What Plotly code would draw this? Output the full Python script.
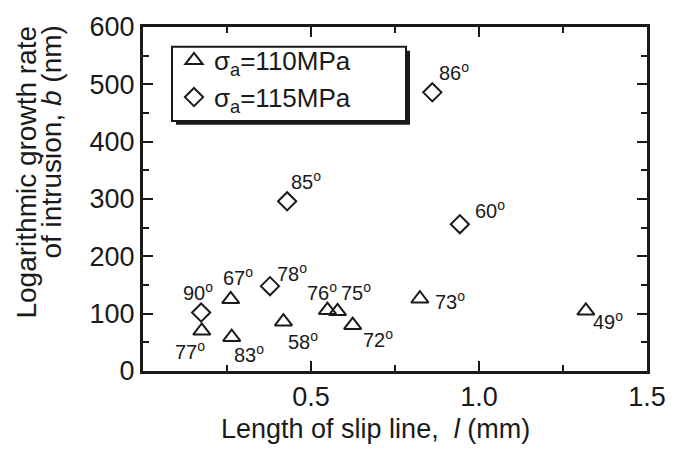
import plotly.graph_objects as go

# sigma_a = 110 MPa (triangles)
tri_x = [0.175, 0.261, 0.264, 0.418, 0.549, 0.579, 0.624, 0.824, 1.318]
tri_y = [70, 125, 59, 86, 106, 104, 80, 126, 105]
tri_angle = ["77", "67", "83", "58", "76", "75", "72", "73", "49"]
# label offsets in pixels (dx, dy)
tri_dx = [-12, 7, 17, 20, -5, 18, 25, 30, 22]
tri_dy = [-20, 23, -16, -19, 19, 20, -13, -2, -10]

# sigma_a = 115 MPa (diamonds)
dia_x = [0.173, 0.378, 0.429, 0.861, 0.943]
dia_y = [102, 148, 296, 486, 256]
dia_angle = ["90", "78", "85", "86", "60"]
dia_dx = [-3, 22, 19, 22, 30]
dia_dy = [21, 14, 21, 21, 15]

x_ticks = [0.5, 1.0, 1.5]
x_ticktext = ["0.5", "1.0", "1.5"]
x_minor = [0.25, 0.75, 1.25]

FONT = "Liberation Sans, Arial, sans-serif"
INK = "#1a1a1a"

# plot area in pixels (for paper-coordinate conversion of decorations)
L, R, T, B = 143, 647, 23, 371
def px_x(p): return (p - L) / (R - L)
def px_y(p): return (B - p) / (B - T)

fig = go.Figure()
fig.add_trace(go.Scatter(
    x=tri_x, y=tri_y, mode="markers", name="σ<sub>a</sub>=110MPa",
    marker=dict(symbol="triangle-up-open", size=15, color=INK, line=dict(width=2, color=INK)),
))
fig.add_trace(go.Scatter(
    x=dia_x, y=dia_y, mode="markers", name="σ<sub>a</sub>=115MPa",
    marker=dict(symbol="diamond-open", size=14, color=INK, line=dict(width=2, color=INK)),
))

annotations = []
for xs, ys, labs, dxs, dys in [(tri_x, tri_y, tri_angle, tri_dx, tri_dy),
                               (dia_x, dia_y, dia_angle, dia_dx, dia_dy)]:
    for x, y, lab, dx, dy in zip(xs, ys, labs, dxs, dys):
        annotations.append(dict(
            x=x, y=y, xref="x", yref="y", text=lab + "<sup>o</sup>",
            showarrow=False, xshift=dx, yshift=dy,
            font=dict(family=FONT, size=20, color=INK),
        ))

# y-axis title, two lines aligned at the top
annotations.append(dict(
    x=px_x(27), y=px_y(20), xref="paper", yref="paper", xanchor="center", yanchor="top",
    text="Logarithmic growth rate", textangle=-90, showarrow=False,
    font=dict(family=FONT, size=28, color=INK),
))
annotations.append(dict(
    x=px_x(52), y=px_y(20), xref="paper", yref="paper", xanchor="center", yanchor="top",
    text="of intrusion, <i>b</i> (nm)", textangle=-90, showarrow=False,
    font=dict(family=FONT, size=28, color=INK),
))
# x-axis title
annotations.append(dict(
    x=px_x(375), y=px_y(430), xref="paper", yref="paper", xanchor="center", yanchor="middle",
    text="Length of slip line,  <i>l</i> (mm)", showarrow=False,
    font=dict(family=FONT, size=27, color=INK),
))

# legend frame with drop shadow
shapes = [
    dict(type="rect", xref="paper", yref="paper",
         x0=px_x(176), x1=px_x(410), y0=px_y(122), y1=px_y(47),
         fillcolor=INK, line=dict(width=0), layer="above"),
    dict(type="rect", xref="paper", yref="paper",
         x0=px_x(172), x1=px_x(406), y0=px_y(118), y1=px_y(43),
         fillcolor="white", line=dict(width=2, color=INK), layer="above"),
]

fig.update_layout(
    width=687, height=450,
    margin=dict(l=L, r=687 - R, t=T, b=450 - B),
    paper_bgcolor="white", plot_bgcolor="white",
    font=dict(family=FONT, size=27, color=INK),
    annotations=annotations, shapes=shapes,
    showlegend=True,
    legend=dict(
        x=px_x(174), y=px_y(33), xanchor="left", yanchor="top",
        borderwidth=0, bgcolor="rgba(0,0,0,0)",
        font=dict(family=FONT, size=26, color=INK),
        tracegroupgap=0, itemwidth=30,
    ),
    xaxis=dict(
        range=[0, 1.5], tickmode="array", tickvals=x_ticks, ticktext=x_ticktext,
        ticks="inside", ticklen=10, tickwidth=2, tickcolor=INK,
        showline=True, linewidth=3, linecolor=INK, mirror="allticks",
        showgrid=False, zeroline=False,
        minor=dict(tickvals=x_minor, ticks="inside", ticklen=6, tickwidth=2, tickcolor=INK, showgrid=False),
        tickfont=dict(family=FONT, size=27, color=INK),
    ),
    yaxis=dict(
        range=[0, 600], tickmode="linear", tick0=0, dtick=100,
        ticks="inside", ticklen=10, tickwidth=2, tickcolor=INK,
        showline=True, linewidth=3, linecolor=INK, mirror="allticks",
        showgrid=False, zeroline=False,
        minor=dict(dtick=50, ticks="inside", ticklen=6, tickwidth=2, tickcolor=INK, showgrid=False),
        tickfont=dict(family=FONT, size=27, color=INK),
    ),
)

fig.write_html("out.html")
